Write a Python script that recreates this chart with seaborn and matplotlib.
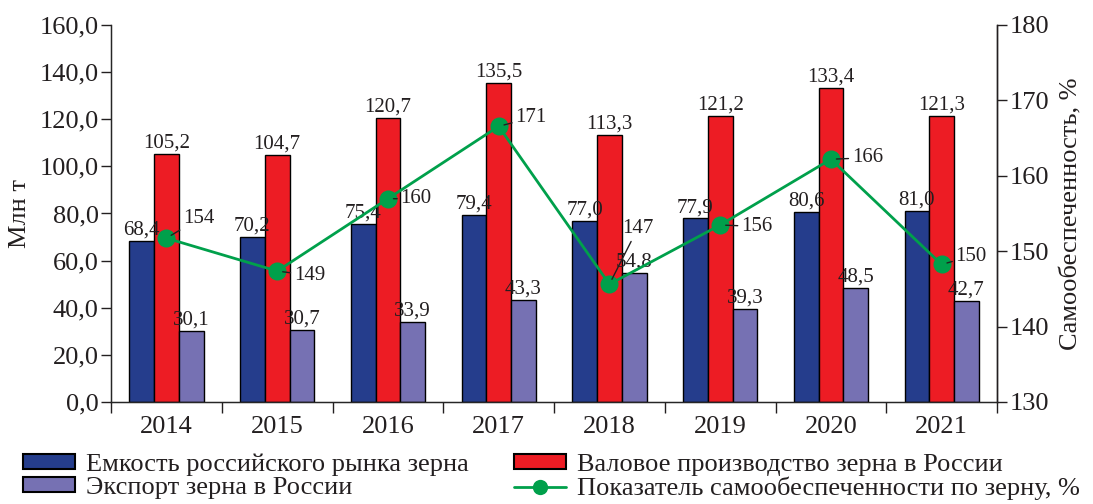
import pandas as pd
import seaborn as sns
import matplotlib.pyplot as plt
import numpy as np
from matplotlib.ticker import FuncFormatter, FixedLocator
from matplotlib.patches import Patch
from matplotlib.lines import Line2D

# Data
years = ["2014", "2015", "2016", "2017", "2018", "2019", "2020", "2021"]
capacity = [68.4, 70.2, 75.4, 79.4, 77.0, 77.9, 80.6, 81.0]
production = [105.2, 104.7, 120.7, 135.5, 113.3, 121.2, 133.4, 121.3]
export = [30.1, 30.7, 33.9, 43.3, 54.8, 39.3, 48.5, 42.7]
self_sufficiency = [154, 149, 160, 171, 147, 156, 166, 150]

series_names = ["Емкость российского рынка зерна",
                "Валовое производство зерна в России",
                "Экспорт зерна в России"]
line_name = "Показатель самообеспеченности по зерну, %"

colors = ["#253d8c", "#ed1c24", "#7671b3"]
green = "#00a04b"
ink = "#231f20"

df = pd.DataFrame({
    "year": years * 3,
    "value": capacity + production + export,
    "series": [series_names[0]] * 8 + [series_names[1]] * 8 + [series_names[2]] * 8,
})

sns.set_style("ticks")
plt.rcParams["font.family"] = ["Liberation Serif", "DejaVu Serif"]
plt.rcParams["text.color"] = ink
plt.rcParams["axes.labelcolor"] = ink
plt.rcParams["xtick.color"] = ink
plt.rcParams["ytick.color"] = ink

fig = plt.figure(figsize=(10.93, 5.04), dpi=100)
ax = fig.add_axes([0.1016, 0.2024, 0.8106, 0.748])

sns.barplot(data=df, x="year", y="value", hue="series", palette=colors,
            saturation=1, width=0.67, gap=0, edgecolor="black", linewidth=1,
            legend=False, ax=ax)

fmt = lambda v: f"{v:.1f}".replace(".", ",")
for cont, vals in zip(ax.containers, [capacity, production, export]):
    ax.bar_label(cont, labels=[fmt(v) for v in vals], padding=1, fontsize=15, color=ink)

ax.set_xlim(-0.5, 7.5)
ax.set_ylim(0, 160)
ax.set_yticks(np.arange(0, 161, 20))
ax.yaxis.set_major_formatter(FuncFormatter(lambda v, p: f"{v:.1f}".replace(".", ",")))
ax.tick_params(axis="y", labelsize=19, length=7, width=1, direction="out", pad=2)
ax.tick_params(axis="x", which="major", labelsize=19, length=0, pad=10)
ax.xaxis.set_minor_locator(FixedLocator(np.arange(-0.5, 8, 1)))
ax.tick_params(axis="x", which="minor", length=8, width=1, direction="out")
ax.set_xlabel("")
ax.set_ylabel("Млн т", fontsize=19, labelpad=6)
ax.spines["top"].set_visible(False)
for s in ["left", "bottom", "right"]:
    ax.spines[s].set_linewidth(1)
    ax.spines[s].set_color(ink)

# visible right axis
ax2 = ax.twinx()
ax2.set_ylim(130, 180)
ax2.set_yticks(np.arange(130, 181, 10))
ax2.tick_params(axis="y", labelsize=19, length=7, width=1, direction="out", pad=2)
ax2.set_ylabel("Самообеспеченность, %", fontsize=19, labelpad=8)
ax2.spines["top"].set_visible(False)
ax2.spines["right"].set_linewidth(1)
ax2.spines["right"].set_color(ink)

# line drawn on its own scale, as in the source
ax3 = ax.twinx()
ax3.set_ylim(129.1, 186.4)
ax3.axis("off")
xs = np.arange(len(years))
sns.lineplot(x=xs, y=self_sufficiency, color=green, linewidth=2,
             marker="o", markersize=13, markeredgewidth=0, ax=ax3)
ax3.set_xlim(-0.5, 7.5)

offsets = [(12, 14), (12, -3), (9, 0), (12, 6), (9, 40), (15, -1), (15, 1), (10, 6)]
for x, v, off in zip(xs, self_sufficiency, offsets):
    ax3.annotate(str(v), xy=(x, v), xytext=off, textcoords="offset points",
                 fontsize=15, color=ink, ha="left", va="center",
                 arrowprops=dict(arrowstyle="-", color=ink, lw=1, shrinkA=0, shrinkB=4))

handles = [Patch(facecolor=colors[0], edgecolor="black", linewidth=1.5),
           Patch(facecolor=colors[2], edgecolor="black", linewidth=1.5),
           Patch(facecolor=colors[1], edgecolor="black", linewidth=1.5),
           Line2D([], [], color=green, lw=2, marker="o", markersize=11, markeredgewidth=0)]
labels = [series_names[0], series_names[2], series_names[1], line_name]
fig.legend(handles, labels, loc="upper left", bbox_to_anchor=(0.011, 0.122), ncol=2,
           frameon=False, fontsize=19, handlelength=2.0, handleheight=0.5,
           handletextpad=0.4, columnspacing=1.7, labelspacing=0.05, borderaxespad=0)

fig.savefig("out.png", dpi=100)
